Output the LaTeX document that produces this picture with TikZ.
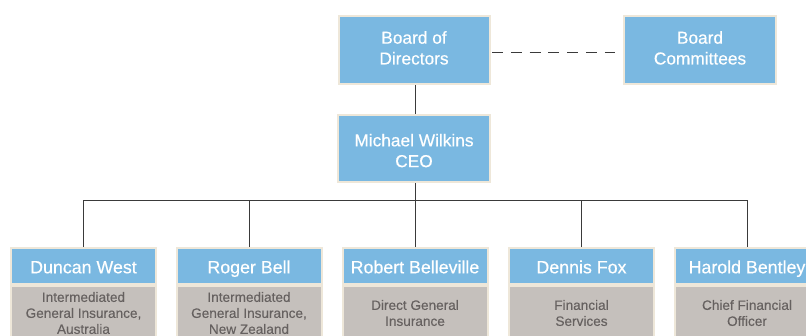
\documentclass[tikz,border=0pt]{standalone}
\usepackage{fontspec}
\setmainfont{Liberation Sans}
\newfontfamily\medfont{Liberation Sans}[FakeBold=0.45]
\newfontfamily\grayfont{Liberation Sans}[FakeBold=0.25]
\definecolor{boxblue}{HTML}{7AB8E1}
\definecolor{boxgray}{HTML}{C5C0BC}
\definecolor{rim}{HTML}{EEE7D9}
\definecolor{graytext}{HTML}{666160}
\definecolor{wire}{HTML}{3A3A3A}
\newcommand\lowdepth[1]{\rule[-#1]{0pt}{#1}}
\newcommand\highlift[1]{\rule{0pt}{#1}}
\tikzset{
  topbox/.style={draw=rim, line width=2pt, fill=boxblue, text=white, align=center,
    inner sep=0pt, minimum width=151pt, minimum height=68pt,
    font=\medfont\fontsize{17.3}{20.8}\selectfont},
  namebox/.style={draw=rim, line width=2pt, fill=boxblue, text=white, align=center,
    inner sep=0pt, minimum width=145pt, minimum height=36pt,
    text height=18pt, text depth=3.4pt,
    font=\medfont\fontsize{17.8}{21}\selectfont},
  rolebox/.style={draw=rim, line width=2pt, fill=boxgray, text=graytext, align=center,
    inner sep=0pt, minimum width=145pt, minimum height=54pt,
    font=\grayfont\fontsize{13.6}{16}\selectfont},
  wireline/.style={draw=wire, line width=1pt},
}
\begin{document}
\begin{tikzpicture}[x=1pt,y=-1pt]
\useasboundingbox (0,0) rectangle (806,335);
\clip (0,0) rectangle (806,335);
\fill[white] (0,0) rectangle (806,335);

\node[topbox] (bod) at (414,50) {Board of\\Directors\lowdepth{4.4pt}};
\node[topbox, minimum width=152pt] (bc) at (700,50) {Board\\Committees\lowdepth{4.4pt}};
\node[topbox, minimum width=152pt, minimum height=67pt] (ceo) at (414,148.5) {\highlift{16.6pt}Michael Wilkins\\CEO};

\node[namebox] (h1) at (83.5,266) {Duncan West};
\node[rolebox] (r1) at (83.5,313) {Intermediated\\General Insurance,\\Australia};
\node[namebox] (h2) at (249,266) {Roger Bell};
\node[rolebox] (r2) at (249,313) {Intermediated\\General Insurance,\\New Zealand};
\node[namebox] (h3) at (415,266) {Robert Belleville};
\node[rolebox] (r3) at (415,313) {Direct General\\Insurance};
\node[namebox] (h4) at (581.5,266) {Dennis Fox};
\node[rolebox] (r4) at (581.5,313) {Financial\\Services};
\node[namebox] (h5) at (747,266) {Harold Bentley};
\node[rolebox] (r5) at (747,313) {Chief Financial\\Officer};

\draw[wireline, dash pattern=on 11pt off 7.8pt] ([xshift=1.5pt,yshift=-2pt]bod.east) -- ([xshift=-8pt,yshift=-2pt]bc.west);
\draw[wireline] ([xshift=1pt]bod.south) -- ([xshift=1pt]ceo.north);
\coordinate (bus) at (415,200);
\draw[wireline] ([xshift=1pt]ceo.south) -- (bus);
\foreach \h in {h1,h2,h3,h4,h5}{
  \draw[wireline] (\h.north) |- (bus);
}
\end{tikzpicture}
\end{document}
